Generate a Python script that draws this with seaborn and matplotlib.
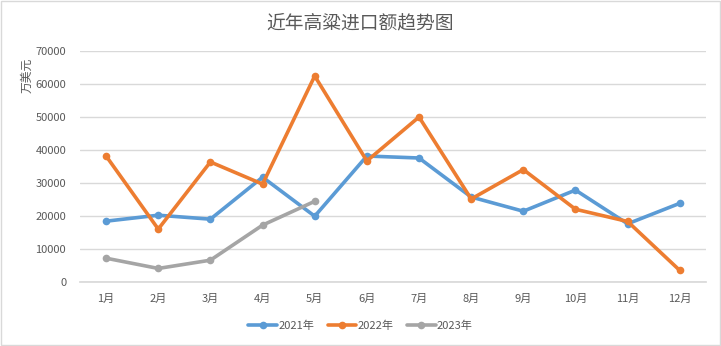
import matplotlib
matplotlib.use("Agg")
import matplotlib.pyplot as plt
import seaborn as sns
import pandas as pd

months = ["1月", "2月", "3月", "4月", "5月", "6月", "7月", "8月", "9月", "10月", "11月", "12月"]
y2021 = [18500, 20300, 19100, 31800, 20000, 38200, 37600, 25800, 21500, 27900, 17700, 23900]
y2022 = [38200, 16100, 36400, 29700, 62400, 36700, 50000, 25200, 34100, 22100, 18400, 3600]
y2023 = [7300, 4200, 6700, 17300, 24500]
series_names = ["2021年", "2022年", "2023年"]
yticks = [0, 10000, 20000, 30000, 40000, 50000, 60000, 70000]

sns.set_theme(style="white")
plt.rcParams["font.family"] = ["Noto Sans CJK SC", "DejaVu Sans"]

rows = []
for name, vals in zip(series_names, [y2021, y2022, y2023]):
    for i, v in enumerate(vals):
        rows.append({"月份": months[i], "idx": i, "金额": v, "年份": name})
df = pd.DataFrame(rows)

palette = {"2021年": "#5B9BD5", "2022年": "#ED7D31", "2023年": "#A5A5A5"}

fig = plt.figure(figsize=(7.21, 3.46), dpi=100)
fig.patch.set_facecolor("white")
ax = fig.add_axes([0.111, 0.184, 0.868, 0.669])

sns.lineplot(data=df, x="idx", y="金额", hue="年份", palette=palette,
             marker="o", markersize=5.5, markeredgewidth=0, linewidth=2.6,
             ax=ax, legend=True)

ax.set_xlim(-0.5, 11.5)
ax.set_ylim(0, 70000)
ax.set_xticks(range(len(months)))
ax.set_xticklabels(months)
ax.set_yticks(yticks)
ax.set_yticklabels([str(t) for t in yticks])
ax.tick_params(axis="both", labelsize=8, colors="#595959", length=0)
ax.tick_params(axis="x", pad=8)
ax.tick_params(axis="y", pad=10)
ax.yaxis.grid(True, color="#D9D9D9", linewidth=1)
ax.xaxis.grid(False)
for side in ["top", "right", "left"]:
    ax.spines[side].set_visible(False)
ax.spines["bottom"].set_color("#D9D9D9")
ax.set_xlabel("")
ax.set_ylabel("")

fig.text(0.037, 0.782, "万美元", rotation=90, ha="center", va="center",
         fontsize=8.5, color="#595959")
fig.text(0.5, 0.935, "近年高粱进口额趋势图", ha="center", va="center",
         fontsize=13.5, color="#595959")

handles, labels = ax.get_legend_handles_labels()
ax.legend(handles, labels, loc="center", bbox_to_anchor=(0.5, 0.058),
          bbox_transform=fig.transFigure, ncol=3, frameon=False,
          fontsize=8, labelcolor="#595959", handlelength=2.6,
          columnspacing=1.2, handletextpad=0.1)

border = plt.Rectangle((0.002, 0.003), 0.996, 0.994, transform=fig.transFigure,
                       fill=False, edgecolor="#D9D9D9", linewidth=1)
fig.patches.append(border)

fig.savefig("out.png", dpi=100)
